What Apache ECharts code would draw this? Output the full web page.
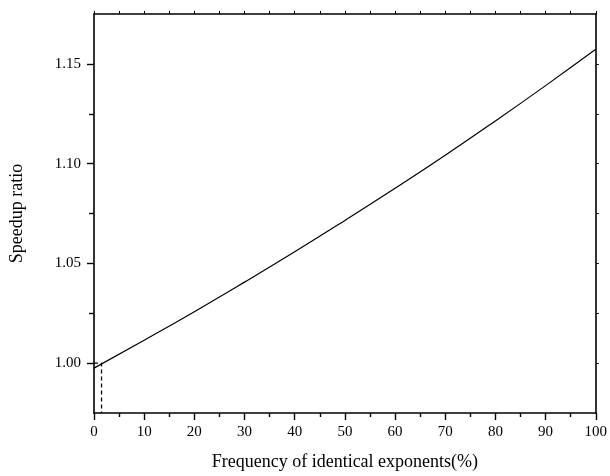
<!DOCTYPE html>
<html><head><meta charset="utf-8">
<script src="https://cdn.jsdelivr.net/npm/echarts@6/dist/echarts.min.js"></script>
<style>html,body{margin:0;padding:0;background:#fff}#c{width:610px;height:476px}</style>
</head><body><div id="c"></div>
<script>
const xValues = [0, 10, 20, 30, 40, 50, 60, 70, 80, 90, 100];
const speedup = [0.9975, 1.0115, 1.0258, 1.0406, 1.0558, 1.0715, 1.0876, 1.1042, 1.1214, 1.1391, 1.1573];
const markerX = 1.5;
const markerY = 1.0;
const yMajorTicks = [1.00, 1.05, 1.10, 1.15];
const yMinorTicks = [1.025, 1.075, 1.125];
const yRightTicks = [1.00, 1.025, 1.05, 1.075, 1.10, 1.125, 1.15];
const xTitle = 'Frequency of identical exponents(%)';
const yTitle = 'Speedup ratio';

const font = 'Liberation Serif';
const black = '#000';
const chart = echarts.init(document.getElementById('c'));
const Y_MIN = 0.975, Y_MAX = 1.175;
chart.setOption({
  animation: false,
  backgroundColor: '#fff',
  grid: {left: 93, right: 12, top: 14, bottom: 63},
  xAxis: [
    {type: 'value', position: 'bottom', min: 0, max: 100, interval: 10,
     name: xTitle, nameLocation: 'middle', nameGap: 40,
     nameTextStyle: {fontFamily: font, fontSize: 18, color: black},
     axisLine: {lineStyle: {color: black, width: 1.6}},
     axisTick: {length: 7, lineStyle: {color: black, width: 1.4}},
     minorTick: {show: true, splitNumber: 2, length: 4, lineStyle: {color: black, width: 1.4}},
     axisLabel: {fontFamily: font, fontSize: 15, color: black, margin: 12},
     splitLine: {show: false}, minorSplitLine: {show: false}},
    {type: 'value', position: 'top', min: 0, max: 100, interval: 5,
     axisLine: {lineStyle: {color: black, width: 1.6}},
     axisTick: {length: 3, lineStyle: {color: black, width: 1}},
     axisLabel: {show: false}, splitLine: {show: false}}
  ],
  yAxis: [
    {type: 'value', position: 'left', min: Y_MIN, max: Y_MAX,
     name: yTitle, nameLocation: 'middle', nameGap: 68,
     nameTextStyle: {fontFamily: font, fontSize: 18, color: black},
     axisLine: {lineStyle: {color: black, width: 1.6}},
     axisTick: {length: 7, customValues: yMajorTicks, lineStyle: {color: black, width: 1.4}},
     axisLabel: {fontFamily: font, fontSize: 15, color: black, margin: 13,
                 customValues: yMajorTicks, formatter: v => v.toFixed(2)},
     splitLine: {show: false}},
    {type: 'value', position: 'left', min: Y_MIN, max: Y_MAX,
     axisLine: {show: false},
     axisTick: {length: 5, customValues: yMinorTicks, lineStyle: {color: black, width: 1.4}},
     axisLabel: {show: false}, splitLine: {show: false}},
    {type: 'value', position: 'right', min: Y_MIN, max: Y_MAX,
     axisLine: {lineStyle: {color: black, width: 1.6}},
     axisTick: {length: 3, customValues: yRightTicks, lineStyle: {color: black, width: 1}},
     axisLabel: {show: false}, splitLine: {show: false}}
  ],
  series: [
    {type: 'line', xAxisIndex: 0, yAxisIndex: 0, smooth: true, symbol: 'none',
     lineStyle: {color: black, width: 1.2},
     data: xValues.map((x, i) => [x, speedup[i]])},
    {type: 'line', xAxisIndex: 0, yAxisIndex: 0, symbol: 'none',
     lineStyle: {color: black, width: 1.3, type: [4, 3]},
     data: [[0, markerY], [markerX, markerY], [markerX, Y_MIN]]}
  ]
});
</script></body></html>
